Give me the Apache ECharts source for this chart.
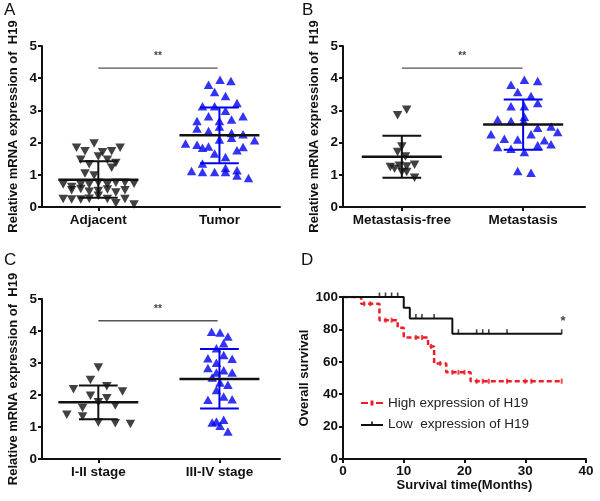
<!DOCTYPE html>
<html>
<head>
<meta charset="utf-8">
<script src="https://cdn.jsdelivr.net/npm/echarts@6/dist/echarts.min.js"></script>
<style>
  html, body { margin: 0; padding: 0; background: #fff; }
  #chart { width: 600px; height: 501px; }
</style>
</head>
<body>
<div id="chart"></div>
<script>
// ---- data ----
const yTitle = 'Relative mRNA expression of  H19';
const categoriesA = ['Adjacent', 'Tumor'];
const categoriesB = ['Metastasis-free', 'Metastasis'];
const categoriesC = ['I-II stage', 'III-IV stage'];

// panel A
const adjacentValues = [1.84, 1.97, 1.84, 1.73, 1.70, 1.73, 1.47, 1.57, 1.33, 1.47, 1.37, 1.22, 1.04, 0.98,
  0.70, 0.62, 0.70, 0.70, 0.75, 0.70, 0.75, 0.75, 0.72,
  0.52, 0.56, 0.47, 0.50, 0.54, 0.45, 0.52,
  0.25, 0.23, 0.23, 0.26, 0.35, 0.25, 0.12, 0.25, 0.08];
const adjacentSpread = [-0.36, -0.07, 0.36, -0.22, 0.07, 0.22, -0.29, 0, -0.15, 0.15, 0.29, 0.22, -0.22, -0.07,
  -0.58, -0.44, -0.29, -0.15, 0, 0.15, 0.29, 0.44, 0.59,
  -0.44, -0.29, -0.15, 0, 0.15, 0.29, 0.44,
  -0.58, -0.44, -0.29, -0.15, 0, 0.15, 0.29, 0.44, 0.59];
const tumorValues = [3.80, 3.95, 3.91, 3.57, 3.45, 3.13, 3.13, 2.99, 3.23, 2.82, 2.67, 2.72, 2.82, 2.67, 2.44,
  2.50, 2.36, 2.30, 2.26, 2.10, 2.15, 2.07, 1.97, 1.93, 1.84, 1.88, 1.66, 1.76, 1.86, 1.55,
  1.35, 1.12, 1.09, 1.09, 1.21, 1.09, 1.14, 0.98, 0.90];
const tumorSpread = [-0.18, 0.01, 0.19, -0.08, 0.10, -0.28, -0.08, 0.10, 0.29, -0.18, 0, 0.20, 0.39, -0.37, -0.37,
  0, -0.18, 0.20, 0.39, 0, 0.20, 0.58, -0.56, -0.37, -0.28, -0.18, -0.08, 0.29, 0.39, 0.10,
  -0.28, -0.46, -0.28, -0.08, 0.10, 0.10, 0.29, 0.29, 0.48];

// panel B
const metFreeValues = [2.85, 3.02, 1.88, 1.71, 1.57, 1.24, 1.19, 1.28, 1.26, 1.31, 1.09, 1.09, 0.91];
const metFreeSpread = [-0.07, 0.08, 0, -0.07, 0.06, -0.19, -0.12, -0.04, 0.08, 0.21, 0, 0.08, 0.21];
const metValues = [3.80, 3.95, 3.91, 3.57, 3.45, 3.13, 3.13, 3.23, 2.80, 2.67, 2.72, 2.67, 2.46, 2.50,
  2.26, 2.33, 2.12, 2.10, 2.26, 2.07, 1.95, 1.86, 1.81, 1.92, 1.71, 1.12, 1.06];
const metSpread = [-0.20, 0.02, 0.24, -0.09, 0.13, -0.20, 0.02, 0.24, 0.02, 0.01, -0.42, -0.20, 0.24, 0.46,
  -0.53, 0.57, -0.31, -0.09, 0.13, 0.35, 0.46, -0.42, -0.20, 0.24, 0.02, -0.09, 0.13];

// panel C
const stage12Values = [2.86, 2.47, 2.18, 2.27, 2.11, 1.98, 1.90, 1.77, 1.67, 1.59, 1.38, 1.33, 1.14, 1.12, 1.09];
const stage12Spread = [0, -0.13, -0.41, 0.14, 0.40, -0.13, 0.14, 0, 0.28, -0.26, -0.52, -0.26, 0, 0.28, 0.53];
const stage34Values = [3.98, 3.95, 3.83, 3.62, 3.46, 3.15, 3.25, 3.13, 3.01, 2.84, 2.70, 2.77, 2.70, 2.55,
  2.39, 2.32, 2.16, 1.95, 1.85, 1.87, 1.14, 1.17, 1.23, 1.04, 0.86];
const stage34Spread = [-0.13, 0.01, 0.14, 0.07, -0.05, -0.19, 0.07, 0.21, -0.05, -0.19, -0.05, 0.07, 0.21, -0.12,
  0.01, 0.14, -0.05, 0.07, -0.19, 0.21, -0.12, -0.05, 0.07, 0.01, 0.14];

// mean, lower, upper (mean ± SD as drawn)
const adjacentStats = [0.85, 0.29, 1.42];
const tumorStats = [2.23, 1.36, 3.09];
const metFreeStats = [1.56, 0.91, 2.21];
const metStats = [2.56, 1.78, 3.34];
const stage12Stats = [1.77, 1.24, 2.30];
const stage34Stats = [2.50, 1.58, 3.44];
const sigLevel = [4.31, 4.31, 4.32];

// panel D: Kaplan-Meier
const survivalNames = ['High expression of H19', 'Low  expression of H19'];
const highTimes = [0, 3, 6, 9, 10, 14, 15, 17, 21, 36];
const highSurvival = [100, 95.8, 85.7, 81, 75, 69.5, 59, 53.5, 48, 48];
const highCensored = [3.5, 4.5, 7, 8, 12, 13, 14.5, 16, 18, 19, 20, 22, 23, 24, 27, 30, 31, 36];
const lowTimes = [0, 10, 11, 18, 36];
const lowSurvival = [100, 93.3, 86.7, 77.3, 77.3];
const lowCensored = [6, 7, 8, 9, 12, 13, 15, 19, 22, 23, 24, 27, 36];
const survivalTicks = [0, 20, 40, 60, 80, 100];

const FONT = '"Liberation Sans", Arial, sans-serif';
const BLUE = '#0000f0';
const RED = '#ee1c25';
const INK = '#111';

const chart = echarts.init(document.getElementById('chart'), null, { renderer: 'canvas' });

const survivalAt = (times, surv, t) => {
    let s = surv[0];
    for (let i = 0; i < times.length; i++) {
        if (times[i] <= t) s = surv[i];
    }
    return s;
};

// mean line + SD whiskers
const statsSeries = (g, center, stats, whiskerColor) => ({
    type: 'custom',
    xAxisIndex: g,
    yAxisIndex: g,
    z: 5,
    silent: true,
    data: [[center].concat(stats)],
    renderItem: (params, api) => {
        const c = api.value(0);
        const m = api.coord([c - 0.66, api.value(1)]);
        const m2 = api.coord([c + 0.66, api.value(1)]);
        const lo = api.coord([c, api.value(2)]);
        const hi = api.coord([c, api.value(3)]);
        const capL = api.coord([c - 0.32, 0])[0];
        const capR = api.coord([c + 0.32, 0])[0];
        const ws = { stroke: whiskerColor, lineWidth: 2 };
        return {
            type: 'group',
            children: [
                { type: 'line', shape: { x1: lo[0], y1: lo[1], x2: hi[0], y2: hi[1] }, style: ws },
                { type: 'line', shape: { x1: capL, y1: lo[1], x2: capR, y2: lo[1] }, style: ws },
                { type: 'line', shape: { x1: capL, y1: hi[1], x2: capR, y2: hi[1] }, style: ws },
                { type: 'line', shape: { x1: m[0], y1: m[1], x2: m2[0], y2: m2[1] }, style: { stroke: INK, lineWidth: 2.5 } }
            ]
        };
    }
});

// significance bar with text
const sigSeries = (g, x1, x2, y, mark, fontSize) => ({
    type: 'custom',
    xAxisIndex: g,
    yAxisIndex: g,
    silent: true,
    data: [[x1, x2, y]],
    renderItem: (params, api) => {
        const a = api.coord([api.value(0), api.value(2)]);
        const b = api.coord([api.value(1), api.value(2)]);
        const children = [];
        if (x2 > x1) {
            children.push({ type: 'line', shape: { x1: a[0], y1: a[1], x2: b[0], y2: b[1] }, style: { stroke: '#555', lineWidth: 1.3 } });
        }
        children.push({
            type: 'text',
            style: {
                text: mark, x: (a[0] + b[0]) / 2, y: x2 > x1 ? a[1] - 12 : a[1],
                align: 'center', verticalAlign: 'middle',
                font: 'bold ' + fontSize + 'px ' + FONT, fill: '#444'
            }
        });
        return { type: 'group', children: children };
    }
});

const dotSeries = (g, center, values, spread, color, down) => ({
    type: 'scatter',
    xAxisIndex: g,
    yAxisIndex: g,
    z: 3,
    data: values.map((v, i) => [center + spread[i], v]),
    symbol: 'triangle',
    symbolRotate: down ? 180 : 0,
    symbolSize: [9.5, 8.5],
    itemStyle: { color: color }
});

const labelStyle = { color: INK, fontWeight: 'bold', fontSize: 13.5, fontFamily: FONT };
const lineStyle = { color: INK, width: 2 };

const catXAxis = (g, cats, min, max) => ({
    gridIndex: g,
    type: 'value',
    min: min,
    max: max,
    axisLine: { show: true, onZero: false, lineStyle: lineStyle },
    axisTick: { show: true, customValues: [1, 3], length: 4, lineStyle: lineStyle },
    axisLabel: Object.assign({ customValues: [1, 3], margin: 6, formatter: v => v === 1 ? cats[0] : (v === 3 ? cats[1] : '') }, labelStyle),
    splitLine: { show: false }
});

const exprYAxis = (g) => ({
    gridIndex: g,
    type: 'value',
    min: 0,
    max: 5,
    interval: 1,
    name: yTitle,
    nameLocation: 'middle',
    nameGap: 22,
    nameTextStyle: { color: INK, fontWeight: 'bold', fontSize: 13, fontFamily: FONT },
    axisLine: { show: true, lineStyle: lineStyle },
    axisTick: { show: true, length: 4, lineStyle: lineStyle },
    axisLabel: Object.assign({ margin: 5 }, labelStyle),
    splitLine: { show: false }
});

const option = {
    animation: false,
    backgroundColor: '#fff',
    textStyle: { fontFamily: FONT },
    graphic: [
        { type: 'text', left: 4, top: 2, style: { text: 'A', font: '17px ' + FONT, fill: INK } },
        { type: 'text', left: 302, top: 2, style: { text: 'B', font: '17px ' + FONT, fill: INK } },
        { type: 'text', left: 4, top: 252, style: { text: 'C', font: '17px ' + FONT, fill: INK } },
        { type: 'text', left: 301, top: 252, style: { text: 'D', font: '17px ' + FONT, fill: INK } }
    ],
    grid: [
        { left: 42, top: 46, width: 238, height: 161 },
        { left: 343, top: 46, width: 242, height: 161 },
        { left: 42, top: 299, width: 238, height: 160 },
        { left: 343, top: 297, width: 243, height: 162 }
    ],
    legend: {
        data: [
            { name: survivalNames[0], icon: 'path://M0,1.5H7V3.5H0Z M9.5,0H12.5V5H9.5Z M15,1.5H22V3.5H15Z' },
            { name: survivalNames[1], icon: 'path://M0,2.5H22V4.5H0Z M10.2,0H11.8V2.5H10.2Z M0,5H0.01V4.99Z' }
        ],
        orient: 'vertical',
        left: 356,
        top: 391,
        itemWidth: 22,
        itemHeight: 5,
        itemGap: 7,
        selectedMode: false,
        textStyle: { color: '#222', fontSize: 13.5, fontFamily: FONT }
    },
    xAxis: [
        catXAxis(0, categoriesA, 0.07, 4),
        catXAxis(1, categoriesB, 0.03, 4.02),
        catXAxis(2, categoriesC, 0.07, 4),
        {
            gridIndex: 3,
            type: 'value',
            min: 0,
            max: 40,
            interval: 10,
            name: 'Survival time(Months)',
            nameLocation: 'middle',
            nameGap: 17,
            nameTextStyle: { color: INK, fontWeight: 'bold', fontSize: 13, fontFamily: FONT },
            axisLine: { show: true, onZero: false, lineStyle: lineStyle },
            axisTick: { show: true, length: 4, lineStyle: lineStyle },
            axisLabel: Object.assign({ margin: 5 }, labelStyle),
            splitLine: { show: false }
        }
    ],
    yAxis: [
        exprYAxis(0),
        exprYAxis(1),
        exprYAxis(2),
        {
            gridIndex: 3,
            type: 'value',
            min: 0,
            max: 100,
            interval: 20,
            name: 'Overall survival',
            nameLocation: 'middle',
            nameGap: 32,
            nameTextStyle: { color: INK, fontWeight: 'bold', fontSize: 13, fontFamily: FONT },
            axisLine: { show: true, lineStyle: lineStyle },
            axisTick: { show: true, length: 4, lineStyle: lineStyle },
            axisLabel: Object.assign({ margin: 5, customValues: survivalTicks }, labelStyle),
            splitLine: { show: false }
        }
    ],
    series: [
        dotSeries(0, 1, adjacentValues, adjacentSpread, INK, true),
        dotSeries(0, 3, tumorValues, tumorSpread, BLUE, false),
        statsSeries(0, 1, adjacentStats, INK),
        statsSeries(0, 3, tumorStats, BLUE),
        sigSeries(0, 1, 2.97, sigLevel[0], '**', 10),

        dotSeries(1, 1, metFreeValues, metFreeSpread, INK, true),
        dotSeries(1, 3, metValues, metSpread, BLUE, false),
        statsSeries(1, 1, metFreeStats, INK),
        statsSeries(1, 3, metStats, BLUE),
        sigSeries(1, 1, 2.99, sigLevel[1], '**', 10),

        dotSeries(2, 1, stage12Values, stage12Spread, INK, true),
        dotSeries(2, 3, stage34Values, stage34Spread, BLUE, false),
        statsSeries(2, 1, stage12Stats, INK),
        statsSeries(2, 3, stage34Stats, BLUE),
        sigSeries(2, 1, 2.97, sigLevel[2], '**', 10),

        {
            name: survivalNames[0],
            type: 'line',
            xAxisIndex: 3,
            yAxisIndex: 3,
            step: 'end',
            symbol: 'none',
            data: highTimes.map((t, i) => [t, highSurvival[i]]),
            lineStyle: { color: RED, width: 2.5, type: [5, 3] },
            itemStyle: { color: RED }
        },
        {
            name: survivalNames[1],
            type: 'line',
            xAxisIndex: 3,
            yAxisIndex: 3,
            step: 'end',
            symbol: 'none',
            data: lowTimes.map((t, i) => [t, lowSurvival[i]]),
            lineStyle: { color: INK, width: 2 },
            itemStyle: { color: INK }
        },
        {
            type: 'scatter',
            xAxisIndex: 3,
            yAxisIndex: 3,
            symbol: 'rect',
            symbolSize: [2, 5],
            data: highCensored.map(t => [t, survivalAt(highTimes, highSurvival, t)]),
            itemStyle: { color: RED }
        },
        {
            type: 'scatter',
            xAxisIndex: 3,
            yAxisIndex: 3,
            symbol: 'rect',
            symbolSize: [1.6, 5],
            symbolOffset: [0, -2],
            data: lowCensored.map(t => [t, survivalAt(lowTimes, lowSurvival, t)]),
            itemStyle: { color: INK }
        },
        sigSeries(3, 36.2, 36.2, 85, '*', 13)
    ]
};

chart.setOption(option);
</script>
</body>
</html>
